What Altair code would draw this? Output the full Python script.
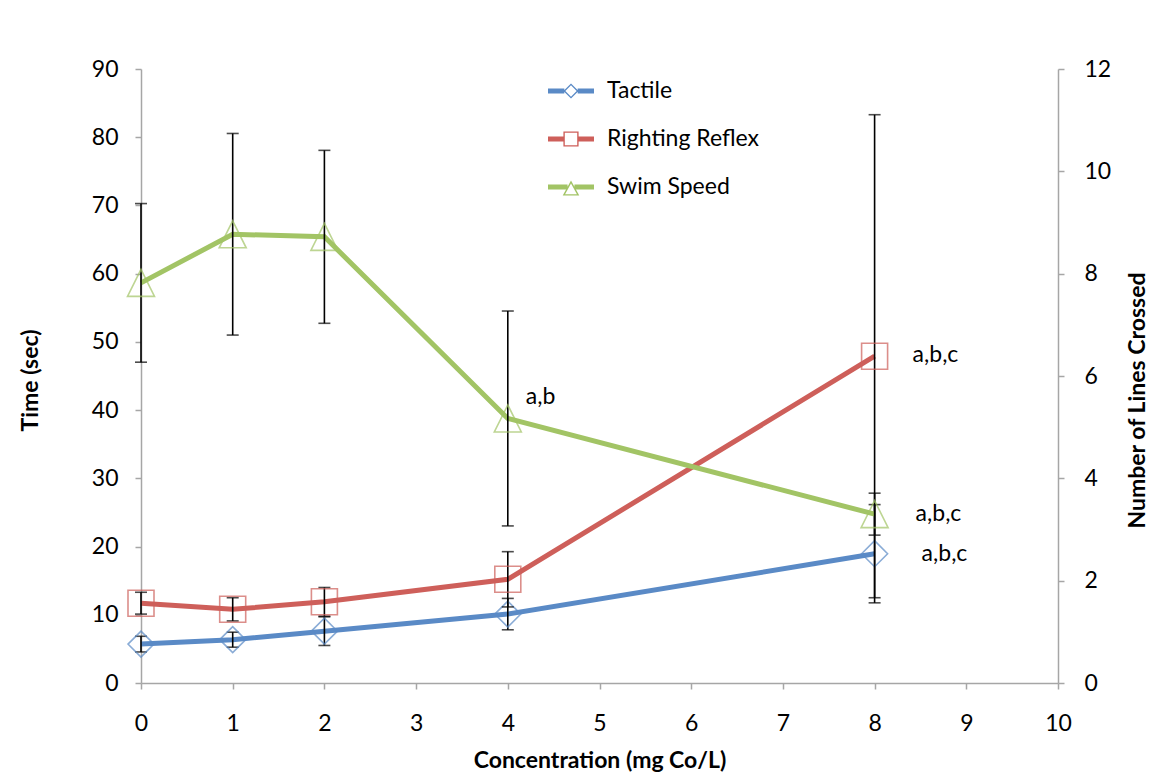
import altair as alt
import pandas as pd

# concentration (mg Co/L)
conc = [0, 1, 2, 4, 8]

# time (sec), left axis
tactile = [5.7, 6.35, 7.6, 10.1, 18.95]
tactile_err = [1.15, 1.1, 2.1, 2.3, 7.2]
righting = [11.7, 10.8, 11.9, 15.2, 47.9]
righting_err = [1.6, 1.7, 2.1, 4.05, 35.4]

# number of lines crossed, right axis
swim = [7.82, 8.77, 8.72, 5.17, 3.30]
swim_err = [1.55, 1.97, 1.69, 2.1, 0.41]

names = ["Tactile", "Righting Reflex", "Swim Speed"]
colors = ["#5A8AC6", "#CE5F5A", "#A2C465"]

# significance notes
ann_series = ["Swim Speed", "Righting Reflex", "Swim Speed", "Tactile"]
ann_conc = [4, 8, 8, 8]
ann_text = ["a,b", "a,b,c", "a,b,c", "a,b,c"]

FONT = "Lato"
FS = 23

# hollow markers drawn on the lines
triangle = "M0,-1L1,1L-1,1Z"

# legend symbols: short line with a hollow marker (ring drawn as a filled path)
leg_diamond = ("M-1,-0.11L-0.29,-0.11L-0.29,0.11L-1,0.11Z "
               "M0.29,-0.11L1,-0.11L1,0.11L0.29,0.11Z "
               "M0,-0.33L0.33,0L0,0.33L-0.33,0Z "
               "M0,-0.245L-0.245,0L0,0.245L0.245,0Z")
leg_square = ("M-1,-0.11L-0.33,-0.11L-0.33,0.11L-1,0.11Z "
              "M0.33,-0.11L1,-0.11L1,0.11L0.33,0.11Z "
              "M-0.33,-0.33L0.33,-0.33L0.33,0.33L-0.33,0.33Z "
              "M-0.27,-0.27L-0.27,0.27L0.27,0.27L0.27,-0.27Z")
leg_triangle = ("M-1,-0.11L-0.15,-0.11L-0.15,0.11L-1,0.11Z "
                "M0.15,-0.11L1,-0.11L1,0.11L0.15,0.11Z "
                "M0,-0.28L0.36,0.37L-0.36,0.37Z "
                "M0,-0.156L-0.258,0.31L0.258,0.31Z")
legend_shapes = [leg_diamond, leg_square, leg_triangle]


def frame(values, errors, name):
    df = pd.DataFrame({"conc": conc, "value": values, "err": errors})
    df["lo"] = df["value"] - df["err"]
    df["hi"] = df["value"] + df["err"]
    df["series"] = name
    return df


frames = {
    "Tactile": frame(tactile, tactile_err, "Tactile"),
    "Righting Reflex": frame(righting, righting_err, "Righting Reflex"),
    "Swim Speed": frame(swim, swim_err, "Swim Speed"),
}

x_enc = alt.X(
    "conc:Q",
    scale=alt.Scale(domain=[0, 10], nice=False),
    axis=alt.Axis(values=list(range(11)), title="Concentration (mg Co/L)",
                  titleY=77, titleBaseline="middle", labelPadding=23,
                  labelFlush=False),
)

left_scale = alt.Scale(domain=[0, 90], nice=False)
left_axis = alt.Axis(values=list(range(0, 91, 10)), title="Time (sec)",
                     titleX=-111, titleY=311, titleAngle=270,
                     titleBaseline="middle", labelPadding=17)
right_scale = alt.Scale(domain=[0, 12], nice=False)
right_axis = alt.Axis(orient="right", values=list(range(0, 13, 2)),
                      title="Number of Lines Crossed", titleX=79, titleY=331,
                      titleAngle=270, titleBaseline="middle", labelPadding=20)


def series_layers(df, color, shape, size, y_scale, y_axis):
    base = alt.Chart(df).encode(x=x_enc)
    line = base.mark_line(color=color, strokeWidth=5).encode(
        y=alt.Y("value:Q", scale=y_scale, axis=y_axis))
    bars = base.mark_rule(color="black", strokeWidth=1.6).encode(
        y=alt.Y("lo:Q", scale=y_scale, axis=y_axis), y2="hi:Q")
    caps = base.transform_fold(["lo", "hi"], as_=["end", "ypos"]).mark_tick(
        orient="horizontal", size=12, thickness=1.6, color="black"
    ).encode(y=alt.Y("ypos:Q", scale=y_scale, axis=y_axis))
    pts = base.mark_point(shape=shape, size=size, filled=False, color=color,
                          strokeWidth=1.6).encode(
        y=alt.Y("value:Q", scale=y_scale, axis=y_axis))
    return [line, bars, caps, pts]


def note(series, at, text, dx, dy, y_scale, y_axis):
    df = frames[series]
    df = df[df["conc"] == at].assign(note=text)
    return alt.Chart(df).mark_text(
        align="left", baseline="middle", dx=dx, dy=dy,
        font=FONT, fontSize=FS, color="black"
    ).encode(x=x_enc, y=alt.Y("value:Q", scale=y_scale, axis=y_axis),
             text="note:N")


leg = alt.Legend(title=None, orient="none", legendX=407, legendY=-1,
                 symbolSize=2116, symbolStrokeWidth=0, symbolOpacity=1,
                 labelFont=FONT, labelFontSize=FS, labelColor="black",
                 labelOffset=13, rowPadding=13, padding=0)

legend_layer = alt.Chart(frames["Tactile"]).mark_point(
    filled=True, opacity=0
).encode(
    x=x_enc,
    y=alt.Y("value:Q", scale=left_scale, axis=left_axis),
    color=alt.Color("series:N", scale=alt.Scale(domain=names, range=colors),
                    legend=leg),
    shape=alt.Shape("series:N",
                    scale=alt.Scale(domain=names, range=legend_shapes),
                    legend=leg),
)

offsets = [(18, -21), (38, -1), (41, 0), (47, 0)]
left_notes, right_notes = [], []
for s, c, t, (dx, dy) in zip(ann_series, ann_conc, ann_text, offsets):
    if s == "Swim Speed":
        right_notes.append(note(s, c, t, dx, dy, right_scale, right_axis))
    else:
        left_notes.append(note(s, c, t, dx, dy, left_scale, left_axis))

left = alt.layer(
    *series_layers(frames["Tactile"], colors[0], "diamond", 676,
                   left_scale, left_axis),
    *series_layers(frames["Righting Reflex"], colors[1], "square", 676,
                   left_scale, left_axis),
    legend_layer,
    *left_notes,
)

right = alt.layer(
    *series_layers(frames["Swim Speed"], colors[2], triangle, 729,
                   right_scale, right_axis),
    *right_notes,
)

chart = alt.layer(left, right).resolve_scale(y="independent").properties(
    width=917,
    height=614,
    autosize="none",
    padding={"left": 133, "top": 61, "right": 97, "bottom": 95},
).configure_axis(
    grid=False,
    domainColor="#a6a6a6",
    domainWidth=1.5,
    tickColor="#a6a6a6",
    tickWidth=1.5,
    tickSize=6,
    labelFont=FONT,
    labelFontSize=FS,
    labelColor="black",
    titleFont=FONT,
    titleFontSize=FS,
    titleFontWeight="bold",
    titleColor="black",
).configure_view(
    strokeWidth=0
)

chart.save("out.html", embed_options={"renderer": "svg", "actions": False})
